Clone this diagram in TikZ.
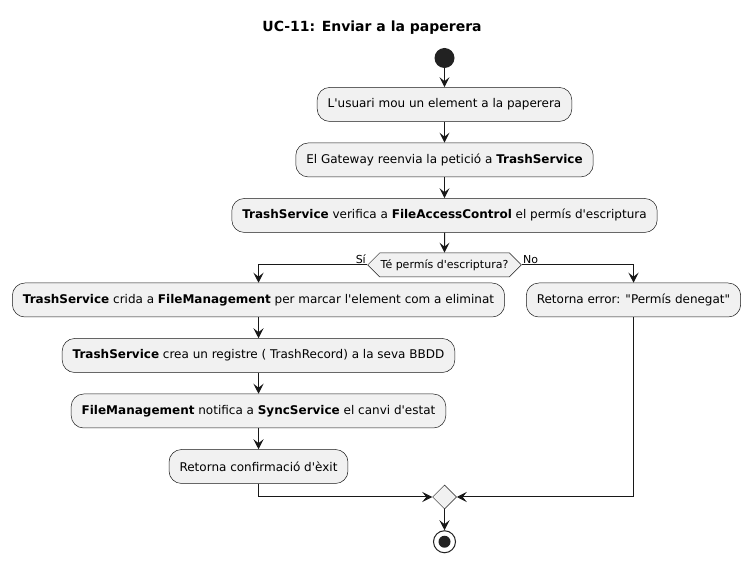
\documentclass[tikz,border=0pt]{standalone}
\usepackage{fontspec}
\setmainfont{DejaVu Sans}[Ligatures=TeXOff]
\usetikzlibrary{arrows.meta,positioning,shapes.geometric,shapes.symbols}
\definecolor{actfill}{HTML}{F1F1F1}
\definecolor{edge}{HTML}{181818}
\definecolor{dot}{HTML}{222222}

\begin{document}
\begin{tikzpicture}[
  x=1pt, y=1pt,
  node distance=21pt,
  action/.style={draw=edge, line width=0.5pt, fill=actfill, rounded corners=12.5pt, minimum height=34pt, inner xsep=10.5pt, font=\fontsize{12}{14}\selectfont},
  choice/.style={draw=edge, line width=0.5pt, fill=actfill, signal, signal to=west and east, minimum height=24pt, inner xsep=1pt, inner ysep=0pt, font=\fontsize{11}{13}\selectfont},
  joinpt/.style={draw=edge, line width=0.5pt, fill=actfill, diamond, minimum width=24pt, minimum height=24pt, inner sep=0pt},
  startdot/.style={circle, fill=dot, minimum size=20pt, inner sep=0pt},
  stopring/.style={circle, draw=dot, line width=1pt, fill=white, minimum size=22pt, inner sep=0pt},
  stopdot/.style={circle, fill=dot, minimum size=12pt, inner sep=0pt},
  branch/.style={font=\fontsize{11}{13}\selectfont, inner sep=1pt},
  flow/.style={-{Stealth[length=10pt, width=10pt, inset=4pt]}, draw=edge, line width=1pt}
]
\useasboundingbox (0,0) rectangle (748,-561);
\node[font=\fontsize{14}{17}\selectfont\bfseries] (title) at (372,-28) {UC-11: Enviar a la paperera};
\node[startdot] (start) at (444.5,-58) {};
\node[action, below=19pt of start] (usuari) {L'usuari mou un element a la paperera};
\node[action, below=of usuari] (gateway) {El Gateway reenvia la petició a \textbf{TrashService}};
\node[action, below=of gateway] (verifica) {\textbf{TrashService} verifica a \textbf{FileAccessControl} el permís d'escriptura};
\node[choice, below=20pt of verifica] (permis) {Té permís d'escriptura?};
\node[action] (crida) at (258.5,-300) {\textbf{TrashService} crida a \textbf{FileManagement} per marcar l'element com a eliminat};
\node[action] (error) at (633.5,-300) {Retorna error: "Permís denegat"};
\node[action, below=of crida] (registre) {\textbf{TrashService} crea un registre ( TrashRecord) a la seva BBDD};
\node[action, below=of registre] (notifica) {\textbf{FileManagement} notifica a \textbf{SyncService} el canvi d'estat};
\node[action, below=of notifica] (confirma) {Retorna confirmació d'èxit};
\node[joinpt] (merge) at (444.5,-497) {};
\node[stopring, below=of merge] (stop) {};
\node[stopdot] (stopcore) at (stop) {};
\draw[flow] (start) -- (usuari);
\draw[flow] (usuari) -- (gateway);
\draw[flow] (gateway) -- (verifica);
\draw[flow] (verifica) -- (permis);
\draw[flow] (permis.west) -| node[branch, pos=0, above left]{Sí} (crida.north);
\draw[flow] (permis.east) -| node[branch, pos=0, above right]{No} (error.north);
\draw[flow] (crida) -- (registre);
\draw[flow] (registre) -- (notifica);
\draw[flow] (notifica) -- (confirma);
\draw[flow] (confirma.south) |- (merge.west);
\draw[flow] (error.south) |- (merge.east);
\draw[flow] (merge) -- (stop);
\end{tikzpicture}
\end{document}
